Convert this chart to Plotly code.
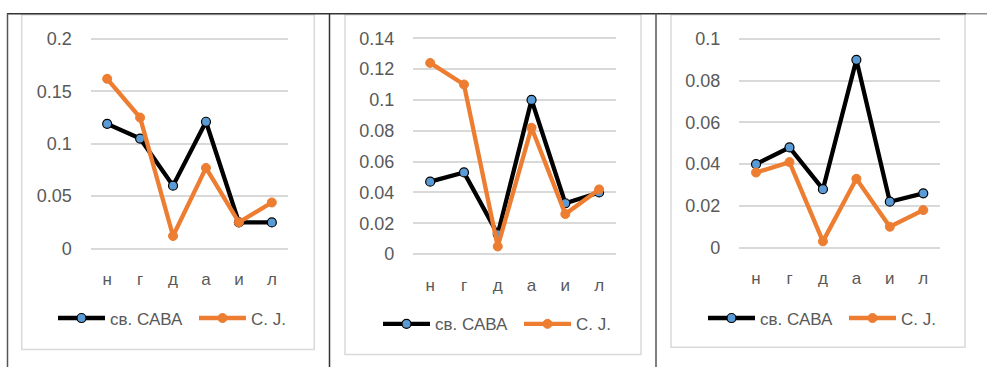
import plotly.graph_objects as go

# Categories along the x axis
categories = ["н", "г", "д", "а", "и", "л"]

# Panel 1 series
p1_sava = [0.119, 0.105, 0.060, 0.121, 0.025, 0.025]
p1_cj = [0.162, 0.125, 0.012, 0.077, 0.025, 0.044]

# Panel 2 series
p2_sava = [0.047, 0.053, 0.013, 0.100, 0.033, 0.040]
p2_cj = [0.124, 0.110, 0.005, 0.082, 0.026, 0.042]

# Panel 3 series
p3_sava = [0.040, 0.048, 0.028, 0.090, 0.022, 0.026]
p3_cj = [0.036, 0.041, 0.003, 0.033, 0.010, 0.018]

series_names = ["св. САВА", "С. J."]

W, H = 987, 373
FONT = "Liberation Sans"
TEXT = "#595959"
GRID = "#D9D9D9"
BLACK = "#000000"
BLUE = "#5B9BD5"
ORANGE = "#ED7D31"


def fx(px):
    return px / W


def fy(py):
    return 1 - py / H


# Layout per panel: x domain (px), y top/bottom (px), y range, dtick, legend position (px)
panels = [
    dict(sava=p1_sava, cj=p1_cj, x0=90.7, x1=288.3, ytop=30.7, ybot=255.3,
         yr=[-0.004, 0.204], dtick=0.05, leg_x=53, leg_y=323,
         box=(21.7, 10, 314.3, 355)),
    dict(sava=p2_sava, cj=p2_cj, x0=413.3, x1=616.0, ytop=29.5, ybot=261.5,
         yr=[-0.003, 0.143], dtick=0.02, leg_x=378, leg_y=329,
         box=(345, 10, 641, 360)),
    dict(sava=p3_sava, cj=p3_cj, x0=739.3, x1=940.0, ytop=30.7, ybot=254.3,
         yr=[-0.002, 0.102], dtick=0.02, leg_x=703, leg_y=323,
         box=(671, 10, 965, 352.7)),
]

fig = go.Figure()
layout = dict(
    width=W, height=H,
    margin=dict(l=0, r=0, t=0, b=0),
    paper_bgcolor="white", plot_bgcolor="white",
    font=dict(family=FONT, size=17, color=TEXT),
    shapes=[],
)

for i, p in enumerate(panels, start=1):
    xa = "x" if i == 1 else f"x{i}"
    ya = "y" if i == 1 else f"y{i}"
    leg = "legend" if i == 1 else f"legend{i}"
    fig.add_trace(go.Scatter(
        x=categories, y=p["sava"], name=series_names[0], mode="lines+markers",
        line=dict(color=BLACK, width=4.3),
        marker=dict(color=BLUE, size=9, line=dict(color=BLACK, width=1.2)),
        xaxis=xa, yaxis=ya, legend=leg,
    ))
    fig.add_trace(go.Scatter(
        x=categories, y=p["cj"], name=series_names[1], mode="lines+markers",
        line=dict(color=ORANGE, width=4.3),
        marker=dict(color=ORANGE, size=9, line=dict(color=ORANGE, width=1)),
        xaxis=xa, yaxis=ya, legend=leg,
    ))
    sfx = "" if i == 1 else str(i)
    layout[f"xaxis{sfx}"] = dict(
        domain=[fx(p["x0"]), fx(p["x1"])], anchor=ya,
        type="category", range=[-0.5, 5.5],
        showgrid=False, zeroline=False, showline=False, ticks="",
        ticklabelstandoff=14, tickfont=dict(size=17, color=TEXT),
    )
    layout[f"yaxis{sfx}"] = dict(
        domain=[fy(p["ybot"]), fy(p["ytop"])], anchor=xa,
        range=p["yr"], dtick=p["dtick"], tick0=0,
        showgrid=True, gridcolor=GRID, gridwidth=1.5,
        zeroline=False, showline=False, ticks="",
        ticklabelstandoff=18, tickfont=dict(size=18, color=TEXT),
    )
    layout[leg] = dict(
        orientation="h", x=fx(p["leg_x"]), xanchor="left",
        y=fy(p["leg_y"]), yanchor="middle", itemwidth=47, entrywidth=79,
        bgcolor="rgba(0,0,0,0)", font=dict(size=17, color=TEXT),
        tracegroupgap=0,
    )
    bx0, by0, bx1, by1 = p["box"]
    layout["shapes"].append(dict(
        type="rect", xref="paper", yref="paper",
        x0=fx(bx0), x1=fx(bx1), y0=fy(by1), y1=fy(by0),
        line=dict(color=GRID, width=1.5), fillcolor="rgba(0,0,0,0)", layer="below",
    ))

# Outer table rules
rules = [
    (7, 9, 966, 9, "#333333", 1.5),
    (966, 9, 987, 9, "#8C8C8C", 1.5),
    (7.5, 9, 7.5, 373, "#555555", 1.5),
    (329.5, 9, 329.5, 373, "#333333", 1.5),
    (656, 9, 656, 373, "#555555", 1.5),
]
for x0, y0, x1, y1, c, w in rules:
    layout["shapes"].append(dict(
        type="line", xref="paper", yref="paper",
        x0=fx(x0), x1=fx(x1), y0=fy(y0), y1=fy(y1),
        line=dict(color=c, width=w),
    ))

fig.update_layout(**layout)
fig.write_html("out.html")
